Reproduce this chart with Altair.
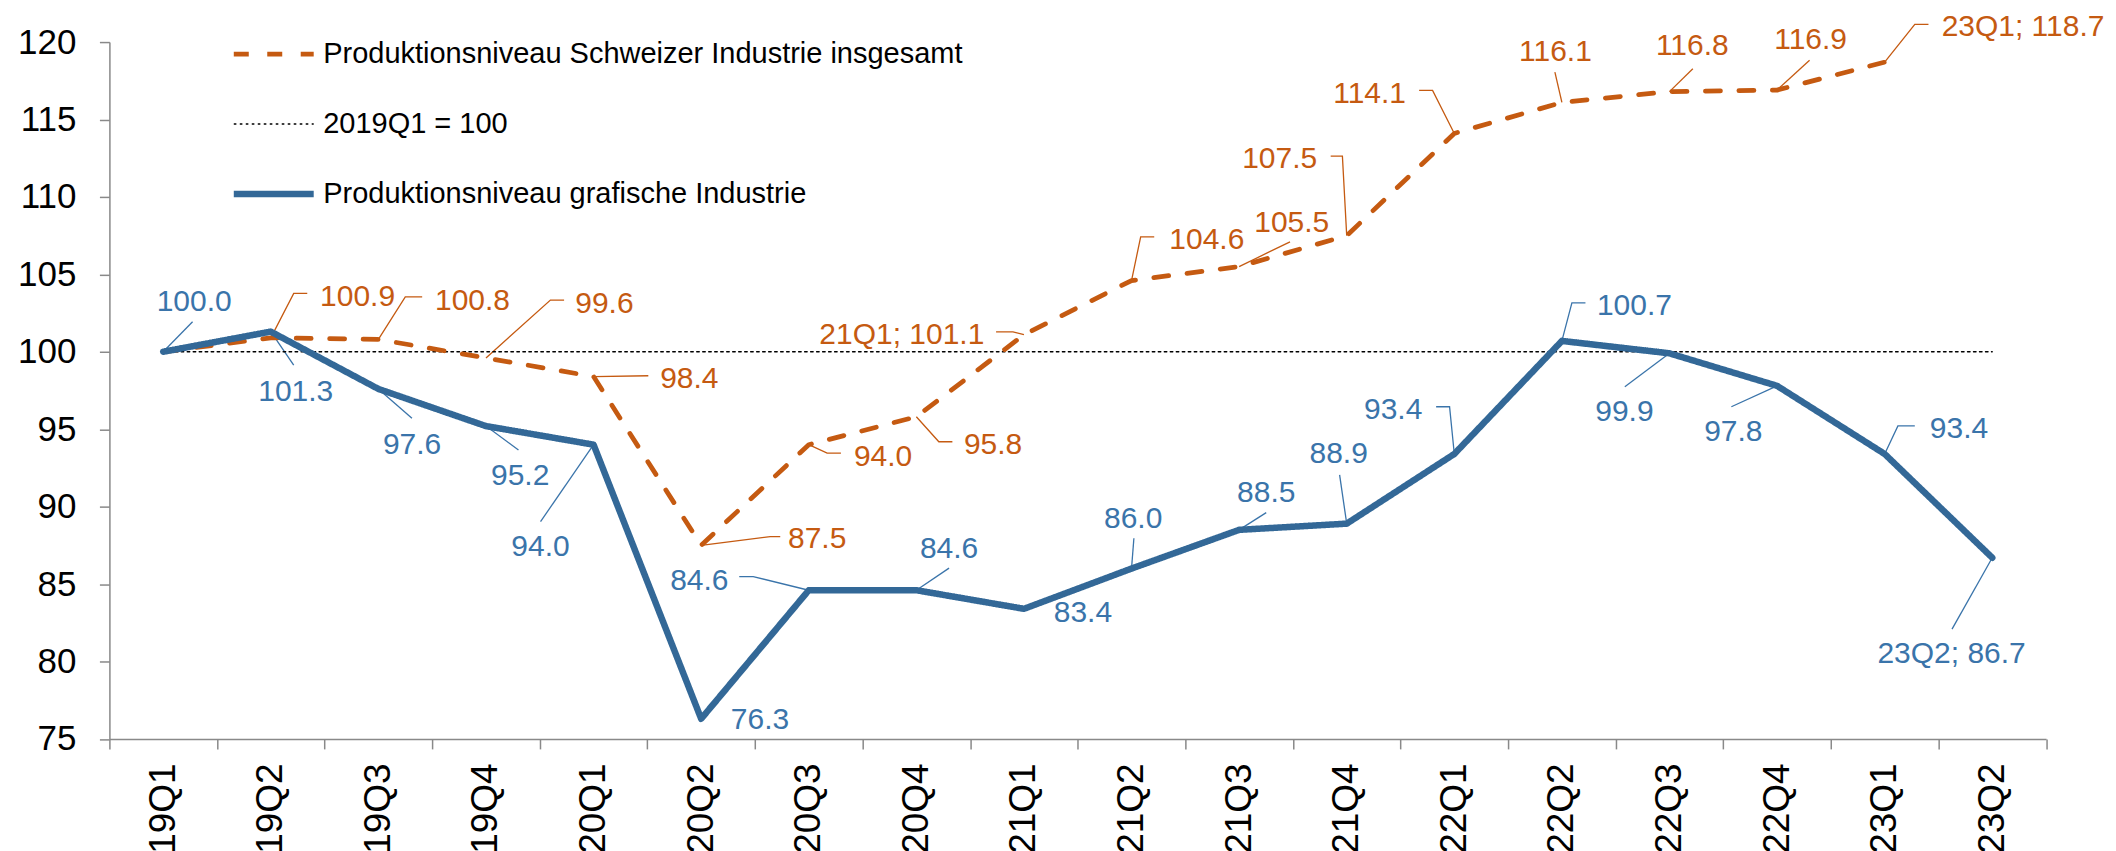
import altair as alt
import pandas as pd

# ---------------- data ----------------
quarters = ["19Q1", "19Q2", "19Q3", "19Q4", "20Q1", "20Q2", "20Q3", "20Q4", "21Q1",
            "21Q2", "21Q3", "21Q4", "22Q1", "22Q2", "22Q3", "22Q4", "23Q1", "23Q2"]
grafisch = [100.0, 101.3, 97.6, 95.2, 94.0, 76.3, 84.6, 84.6, 83.4, 86.0, 88.5, 88.9,
            93.4, 100.7, 99.9, 97.8, 93.4, 86.7]
schweiz = [100.0, 100.9, 100.8, 99.6, 98.4, 87.5, 94.0, 95.8, 101.1, 104.6, 105.5,
           107.5, 114.1, 116.1, 116.8, 116.9, 118.7]
basis = [100.0, 100.0, 100.0, 100.0, 100.0, 100.0, 100.0, 100.0, 100.0, 100.0, 100.0,
         100.0, 100.0, 100.0, 100.0, 100.0, 100.0, 100.0]

S_CH = "Produktionsniveau Schweizer Industrie insgesamt"
S_BASE = "2019Q1 = 100"
S_GRAF = "Produktionsniveau grafische Industrie"
legend_order = [S_CH, S_BASE, S_GRAF]

# label texts with a quarter prefix
grafisch_prefix = {17: "23Q2; "}
schweiz_prefix = {8: "21Q1; ", 16: "23Q1; "}

# ---------------- annotation layout (label centres / leader vertices, in data units) ----------------
blue_label_x = [0.288, 1.232, 2.313, 3.318, 3.507, 5.547, 4.983, 7.304, 8.548, 9.015,
                10.252, 10.925, 11.432, 13.674, 13.581, 14.593, 16.691, 16.622]
blue_label_y = [103.34, 97.53, 94.11, 92.11, 87.53, 76.35, 85.34, 87.37, 83.27, 89.30,
                91.01, 93.50, 96.37, 103.08, 96.24, 94.95, 95.14, 80.59]
orange_label_x = [1.807, 2.875, 4.101, 4.890, 6.078, 6.691, 7.713, 6.865, 9.700, 10.489,
                  10.377, 11.213, 12.940, 14.212, 15.312, 17.286]
orange_label_y = [103.66, 103.40, 103.21, 98.39, 88.01, 93.34, 94.11, 101.24, 107.37,
                  108.43, 112.58, 116.77, 119.48, 119.85, 120.27, 121.08]

blue_leaders = [
    [(0.273, 101.94)], [(1.213, 99.14)], [(2.312, 95.70)], [(3.302, 93.66)],
    [(3.507, 89.03)], [], [(5.484, 85.48), (5.354, 85.48)], [(7.304, 86.03)], [],
    [(9.022, 87.96)], [(10.252, 89.61)], [(10.934, 92.05)],
    [(11.956, 96.45), (11.831, 96.45)], [(13.093, 103.16), (13.219, 103.16)],
    [(13.585, 97.74)], [(14.575, 96.45)], [(16.123, 95.21), (16.280, 95.21)],
    [(16.626, 82.09)],
]
orange_leaders = [
    [(1.213, 103.77), (1.339, 103.77)], [(2.250, 103.55), (2.407, 103.55)],
    [(3.599, 103.34), (3.726, 103.34)], [(4.509, 98.45)],
    [(5.642, 88.06), (5.735, 88.06)], [(6.171, 93.45), (6.299, 93.45)],
    [(7.209, 94.19), (7.335, 94.19)], [(7.898, 101.29), (7.741, 101.29)],
    [(9.085, 107.42), (9.211, 107.42)], [(10.473, 107.10)],
    [(10.960, 112.63), (10.851, 112.63)], [(11.798, 116.88), (11.673, 116.88)],
    [(12.935, 118.06)], [(14.217, 118.28)], [(15.302, 118.82)],
    [(16.280, 121.14), (16.407, 121.14)],
]

# ---------------- styles ----------------
ORANGE = "#C55A11"
BLUE = "#336897"
BLUE_TXT = "#3A74AA"
AXIS_GRAY = "#898989"
# scale domain ordered by line width (a spacer keeps the point-scale widths right)
SPACER = " "
style_domain = [S_BASE, SPACER, S_CH, S_GRAF]
style_colors = ["#000000", "#ffffff", ORANGE, BLUE]
style_dashes = [[2.6, 3.4], [1, 0], [15, 18.5], [1, 0]]
width_range = [1.3, 6.5]

# ---------------- tables ----------------
rows = []
for i, v in enumerate(schweiz):
    rows.append({"i": i, "v": v, "s": S_CH})
for i, v in enumerate(basis):
    rows.append({"i": i, "v": v, "s": S_BASE})
for i, v in enumerate(grafisch):
    rows.append({"i": i, "v": v, "s": S_GRAF})
lines_df = pd.DataFrame(rows)

lab_rows = []
lead_rows = []
for k, v in enumerate(grafisch):
    lab_rows.append({"x": blue_label_x[k], "y": blue_label_y[k],
                     "t": grafisch_prefix.get(k, "") + f"{v:.1f}", "c": BLUE_TXT})
    if blue_leaders[k]:
        lid = f"b{k}"
        pts = [(k, v)] + blue_leaders[k]
        for o, (px, py) in enumerate(pts):
            lead_rows.append({"lid": lid, "o": o, "x": px, "y": py, "c": BLUE_TXT})
for n, v in enumerate(schweiz[1:]):
    k = n + 1
    lab_rows.append({"x": orange_label_x[n], "y": orange_label_y[n],
                     "t": schweiz_prefix.get(k, "") + f"{v:.1f}", "c": ORANGE})
    if orange_leaders[n]:
        lid = f"o{k}"
        pts = [(k, v)] + orange_leaders[n]
        for o, (px, py) in enumerate(pts):
            lead_rows.append({"lid": lid, "o": o, "x": px, "y": py, "c": ORANGE})
labels_df = pd.DataFrame(lab_rows)
leaders_df = pd.DataFrame(lead_rows)

# ---------------- scales / axes ----------------
xscale = alt.Scale(domain=[-0.5, 17.5], nice=False, zero=False)
yscale = alt.Scale(domain=[75, 120], nice=False, zero=False)

x_tick_axis = alt.Axis(orient="bottom", values=[k - 0.5 for k in range(19)], labels=False,
                       tickSize=10, tickColor=AXIS_GRAY, tickWidth=1.5,
                       domainColor=AXIS_GRAY, domainWidth=1.5, grid=False, title=None)
x_label_axis = alt.Axis(orient="bottom", values=list(range(18)),
                        labelExpr=f"{quarters}[datum.value]",
                        ticks=False, tickSize=0, domain=False, grid=False, title=None,
                        labelAngle=270, labelFont="Liberation Sans", labelFontSize=37,
                        labelColor="black", labelPadding=24, labelOverlap=False,
                        labelBound=False, labelFlush=False)
y_axis = alt.Axis(orient="left", values=list(range(75, 121, 5)), tickSize=10,
                  tickColor=AXIS_GRAY, tickWidth=1.5, domainColor=AXIS_GRAY,
                  domainWidth=1.5, grid=False, title=None, labelFont="Liberation Sans",
                  labelFontSize=35, labelColor="black", labelPadding=23.5,
                  labelOverlap=False, labelFlush=False, labelBound=False)

legend = alt.Legend(title=None, orient="none", legendX=121, legendY=-6,
                    values=legend_order,
                    direction="vertical", symbolType="stroke", symbolSize=6400,
                    labelFont="Liberation Sans", labelFontSize=29, labelColor="black",
                    labelLimit=1200, clipHeight=36, rowPadding=34, labelOffset=6,
                    padding=0)


def series_layer(name, xaxis, yaxis):
    return alt.Chart(lines_df).transform_filter(alt.datum.s == name).mark_line(
        strokeCap="round", strokeJoin="round"
    ).encode(
        x=alt.X("i:Q", scale=xscale, axis=xaxis),
        y=alt.Y("v:Q", scale=yscale, axis=yaxis),
        color=alt.Color("s:N", scale=alt.Scale(domain=style_domain, range=style_colors),
                        legend=legend),
        strokeDash=alt.StrokeDash("s:N", scale=alt.Scale(domain=style_domain,
                                                         range=style_dashes),
                                  legend=legend),
        strokeWidth=alt.StrokeWidth("s:N", scale=alt.Scale(type="point",
                                                           domain=style_domain,
                                                           range=width_range,
                                                           padding=0),
                                    legend=legend),
    )


leaders = alt.Chart(leaders_df).mark_line(strokeWidth=1.3).encode(
    x=alt.X("x:Q", scale=xscale, axis=None),
    y=alt.Y("y:Q", scale=yscale, axis=None),
    detail="lid:N",
    order="o:Q",
    color=alt.Color("c:N", scale=None),
)

base_line = series_layer(S_BASE, x_tick_axis, y_axis)
orange_line = series_layer(S_CH, None, None)
blue_line = series_layer(S_GRAF, None, None)

texts = alt.Chart(labels_df).mark_text(
    font="Liberation Sans", fontSize=30, align="center", baseline="middle", dy=2
).encode(
    x=alt.X("x:Q", scale=xscale, axis=x_label_axis),
    y=alt.Y("y:Q", scale=yscale, axis=None),
    text="t:N",
    color=alt.Color("c:N", scale=None),
)

chart = alt.layer(leaders, base_line, orange_line, blue_line, texts).resolve_axis(
    x="independent", y="independent"
).properties(
    width=1938.5,
    height=697.5,
    autosize=alt.AutoSizeParams(type="none"),
    padding={"left": 101.5, "top": 33.7, "right": 62, "bottom": 120},
).configure_view(stroke=None)

chart.save("out.html", embed_options={"renderer": "svg", "actions": False})
